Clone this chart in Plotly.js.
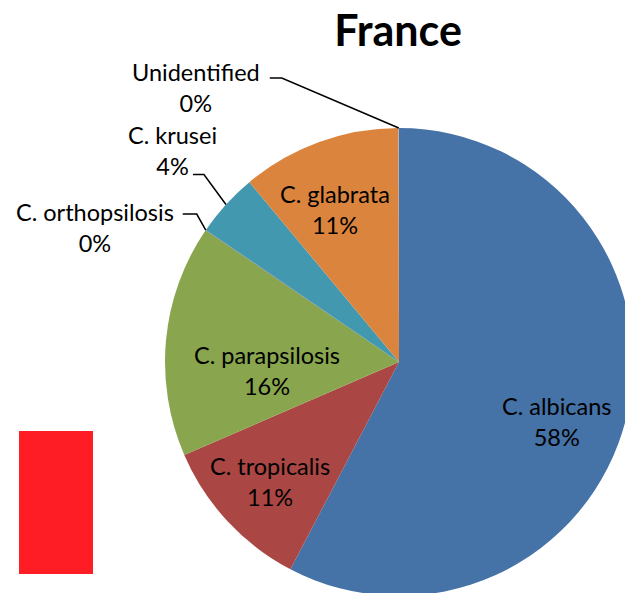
<!DOCTYPE html>
<html>
<head>
<meta charset="utf-8">
<script src="https://cdn.plot.ly/plotly-3.0.1.min.js"></script>
<style>
html,body{margin:0;padding:0;overflow:hidden;background:#fff;}
#chart{width:640px;height:600px;}
</style>
</head>
<body>
<div id="chart"></div>
<script>
// ---- data ----
const labels = ["C. albicans","C. tropicalis","C. parapsilosis","C. orthopsilosis","C. krusei","C. glabrata","Unidentified"];
const values = [57.6, 10.8, 16.0, 0.03, 4.4, 11.0, 0.03];
const colors = ["#4572A7","#AA4643","#89A54E","#71588F","#4198AF","#DB843D","#93A9CF"];
const chartTitle = "France";

// ---- layout / styling (not data) ----
const W = 640, H = 600;
const cx = 399, cy = 362, R = 234;
// inside labels: [radial factor, angle offset deg]
const insideStyle = {0:[0.72,7], 1:[0.75,0], 2:[0.565,-9], 5:[0.706,-3]};
// outside labels: [elbow dx, elbow dy, horizontal segment length, text center dx from seg end, text center dy]
const outsideStyle = {
  3:[-9,-16,14,-88,13],
  4:[-22,-30,11,-20,-24],
  6:[-117,-50,12,-74,9]
};
const fontFam = "Lato, 'Open Sans', sans-serif";
const fontSize = 23.5;

const total = values.reduce((a,b)=>a+b,0);
const px = x => x / W, py = y => 1 - y / H;
function pt(angDeg, r){
  const a = angDeg*Math.PI/180;
  return [cx + r*Math.sin(a), cy - r*Math.cos(a)];
}

const annotations = [];
const shapes = [];
let cum = 0;
values.forEach((v,i)=>{
  const a0 = cum/total*360, a1 = (cum+v)/total*360;
  cum += v;
  const mid = (a0+a1)/2;
  const txt = labels[i] + "<br>" + Math.round(v/total*100) + "%";
  if (insideStyle[i]) {
    const [f,off] = insideStyle[i];
    const [x,y] = pt(mid+off, R*f);
    annotations.push({x:px(x), y:py(y), xref:'paper', yref:'paper', text:txt, showarrow:false,
      xanchor:'center', yanchor:'middle', align:'center',
      font:{family:fontFam, size:fontSize, color:'#000'}});
  } else if (outsideStyle[i]) {
    const [edx,edy,len,tdx,tdy] = outsideStyle[i];
    const [x0,y0] = pt(mid, R);
    const ex = x0+edx, ey = y0+edy;
    const hx = ex-len;
    shapes.push({type:'path', xref:'paper', yref:'paper',
      path:`M${px(x0)},${py(y0)} L${px(ex)},${py(ey)} L${px(hx)},${py(ey)}`,
      line:{color:'#000', width:1.5}});
    annotations.push({x:px(hx+tdx), y:py(ey+tdy), xref:'paper', yref:'paper', text:txt, showarrow:false,
      xanchor:'center', yanchor:'middle', align:'center',
      font:{family:fontFam, size:fontSize, color:'#000'}});
  }
});

// decorative red block
shapes.push({type:'rect', xref:'paper', yref:'paper', x0:px(19), x1:px(93), y0:py(574), y1:py(431),
  fillcolor:'#FF1D25', line:{width:0}, layer:'above'});

const trace = {
  type:'pie', labels:labels, values:values, sort:false, direction:'clockwise', rotation:0,
  marker:{colors:colors, line:{width:0}}, textinfo:'none', hoverinfo:'none',
  domain:{x:[(cx-R)/W,(cx+R)/W], y:[1-(cy+R)/H, 1-(cy-R)/H]}, showlegend:false
};

const layout = {
  width:W, height:H, margin:{l:0,r:0,t:0,b:0}, paper_bgcolor:'#fff',
  title:{text:'<b>'+chartTitle+'</b>', x:398/W, xanchor:'center', y:1-31/H, yanchor:'middle',
    font:{family:fontFam, size:43, color:'#000'}},
  showlegend:false, annotations:annotations, shapes:shapes
};
Plotly.newPlot('chart',[trace],layout,{displayModeBar:false, staticPlot:true});
</script>
</body>
</html>
